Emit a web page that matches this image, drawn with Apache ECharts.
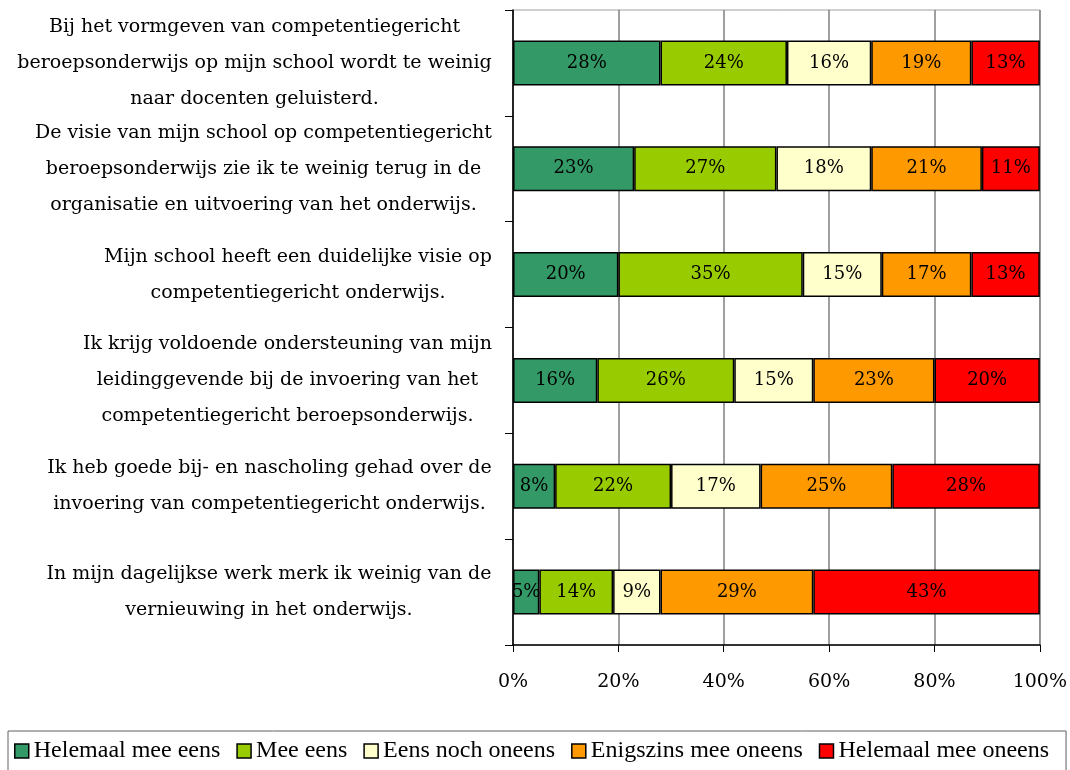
<!DOCTYPE html>
<html>
<head>
	<meta charset="utf-8" />
	<script src="https://cdn.jsdelivr.net/npm/echarts@6/dist/echarts.min.js"></script>
	<style>
		html, body { margin: 0; padding: 0; background: #ffffff; }
		#box { width: 1070px; height: 770px; }
	</style>
</head>
<body>
<div id="box"></div>
<script type="text/javascript">
	// vragen (van boven naar beneden)
	var categories = [
		"Bij het vormgeven van competentiegericht\nberoepsonderwijs op mijn school wordt te weinig\nnaar docenten geluisterd.",
		"De visie van mijn school op competentiegericht\nberoepsonderwijs zie ik te weinig terug in de\norganisatie en uitvoering van het onderwijs.",
		"Mijn school heeft een duidelijke visie op\ncompetentiegericht onderwijs.",
		"Ik krijg voldoende ondersteuning van mijn\nleidinggevende bij de invoering van het\ncompetentiegericht beroepsonderwijs.",
		"Ik heb goede bij- en nascholing gehad over de\ninvoering van competentiegericht onderwijs.",
		"In mijn dagelijkse werk merk ik weinig van de\nvernieuwing in het onderwijs."
	];
	var seriesNames = ["Helemaal mee eens", "Mee eens", "Eens noch oneens", "Enigszins mee oneens", "Helemaal mee oneens"];
	var helemaalEens = [28, 23, 20, 16, 8, 5];
	var meeEens = [24, 27, 35, 26, 22, 14];
	var neutraal = [16, 18, 15, 15, 17, 9];
	var enigszinsOneens = [19, 21, 17, 23, 25, 29];
	var helemaalOneens = [13, 11, 13, 20, 28, 43];
	var xTicks = [0, 20, 40, 60, 80, 100];

	var colors = ["#339966", "#99cc00", "#ffffcc", "#ff9900", "#ff0000"];
	var serif = '"DejaVu Serif", serif';
	var labelSize = 19;

	// breedte van het langste regeltje per label, zodat de regels gecentreerd staan
	var ctx = document.createElement("canvas").getContext("2d");
	ctx.font = labelSize + "px " + serif;
	var rich = {};
	categories.forEach(function (c, i) {
		var w = 0;
		c.split("\n").forEach(function (l) { w = Math.max(w, ctx.measureText(l).width); });
		rich["b" + i] = { width: Math.ceil(w) + 2, align: "center", fontSize: labelSize, fontFamily: serif, lineHeight: 36, color: "#000" };
	});

	var allData = [helemaalEens, meeEens, neutraal, enigszinsOneens, helemaalOneens];
	var series = [];
	for (var s = 0; s < seriesNames.length; s++) {
		series.push({
			name: seriesNames[s],
			type: "bar",
			stack: "totaal",
			barWidth: 45,
			data: allData[s],
			itemStyle: { color: colors[s], borderColor: "#000", borderWidth: 1.5 },
			label: {
				show: true,
				position: "inside",
				formatter: "{c}%",
				color: "#000",
				fontFamily: serif,
				fontSize: 18
			}
		});
	}

	var myChart = echarts.init(document.getElementById("box"));
	var option = {
		animation: false,
		grid: { left: 513, right: 30, top: 10, bottom: 125, show: true, borderColor: "#a0a0a0", borderWidth: 1 },
		xAxis: {
			type: "value",
			min: xTicks[0],
			max: xTicks[xTicks.length - 1],
			interval: 20,
			axisLine: { show: true, lineStyle: { color: "#000", width: 1.5 } },
			axisTick: { show: true, length: 7, lineStyle: { color: "#000" } },
			axisLabel: { formatter: "{value}%", color: "#000", fontFamily: serif, fontSize: 19, margin: 28 },
			splitLine: { show: true, lineStyle: { color: "#808080", width: 1.5 } }
		},
		yAxis: {
			type: "category",
			inverse: true,
			data: categories,
			axisLine: { show: true, lineStyle: { color: "#000", width: 1.5 } },
			axisTick: { show: true, length: 8, lineStyle: { color: "#000" } },
			axisLabel: {
				margin: 20,
				align: "right",
				formatter: function (value, index) {
					return value.split("\n").map(function (l) { return "{b" + index + "|" + l + "}"; }).join("\n");
				},
				rich: rich
			}
		},
		legend: {
			left: 8,
			top: 731,
			padding: [8, 17, 8, 6],
			borderColor: "#606060",
			borderWidth: 1,
			itemGap: 16,
			itemWidth: 14,
			itemHeight: 14,
			icon: "rect",
			itemStyle: { borderColor: "#000", borderWidth: 1.5 },
			textStyle: { color: "#000", fontFamily: '"Liberation Serif", serif', fontSize: 24 },
			data: seriesNames
		},
		series: series
	};
	myChart.setOption(option);
</script>
</body>
</html>
